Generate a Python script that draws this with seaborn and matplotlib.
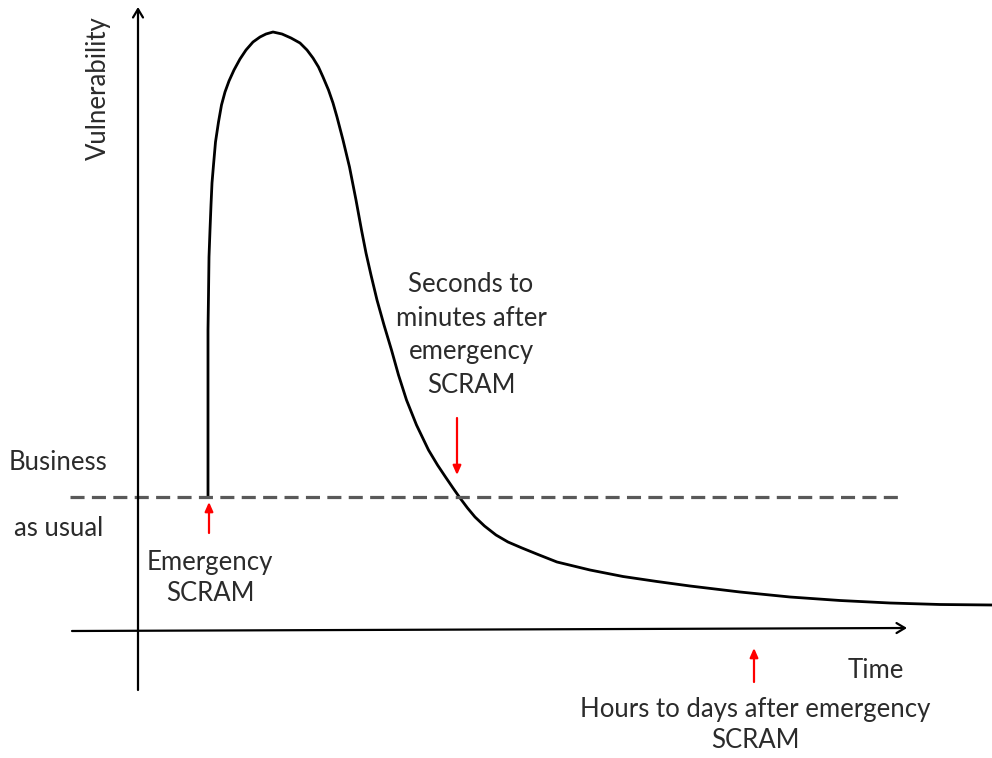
import matplotlib
matplotlib.use("Agg")
import matplotlib.pyplot as plt
import seaborn as sns
import pandas as pd

# ---- data (origin at the axes crossing; x = time, y = vulnerability) ----
time_pts = [70, 70, 70, 70, 70.5, 71, 72, 73, 74, 75.5, 77.5, 80.5, 83.5, 87, 91,
            96, 102, 108, 115, 122, 128, 135,
            144, 153, 162, 169, 175, 180.5, 185, 190.5, 195, 199, 205, 211.5, 218,
            223.5, 228, 233, 239, 246, 253.5, 260.5, 268.5, 278.5, 290.5, 299.5,
            307.5, 315, 322, 329.5, 337, 346.5, 358, 370, 384, 400, 419, 452, 485,
            519, 552, 602, 652, 702, 752, 802, 854]
vuln_pts = [134, 191, 251, 301, 336, 374, 401, 426, 448, 466, 489, 509, 526, 539,
            550, 561, 572, 581, 589, 594, 597, 599,
            597, 593, 588, 581, 573, 564, 554, 541, 528, 514, 491, 464, 431, 401,
            378, 356, 331, 306, 281, 256, 231, 206, 181, 166, 154, 143, 133, 123,
            114, 105, 96, 89, 83, 76.5, 69, 61, 54.5, 49.5, 45, 39, 34, 30.5, 28,
            26.5, 26]
business_as_usual = 134
baseline_span = [-68, 765]

labels = {
    "ylabel": "Vulnerability",
    "xlabel": "Time",
    "bau_top": "Business",
    "bau_bottom": "as usual",
    "scram": "Emergency\nSCRAM",
    "seconds": "Seconds to\nminutes after\nemergency\nSCRAM",
    "hours": "Hours to days after emergency\nSCRAM",
}

sns.set_theme(style="white")
plt.rcParams["font.family"] = ["Lato", "DejaVu Sans"]

fig = plt.figure(figsize=(9.92, 7.58), dpi=100)
ax = fig.add_axes([0, 0, 1, 1])
ax.set_xlim(-138, 854)
ax.set_ylim(-127, 631)
ax.axis("off")

df = pd.DataFrame({"t": time_pts, "v": vuln_pts})
sns.lineplot(data=df, x="t", y="v", sort=False, color="black", lw=2.0, ax=ax,
             estimator=None)

bl = pd.DataFrame({"t": baseline_span, "v": [business_as_usual] * 2})
sns.lineplot(data=bl, x="t", y="v", color="#595959", lw=2.3, ax=ax,
             linestyle=(0, (4.4, 2.3)), estimator=None)

# axes arrows
axis_kw = dict(arrowstyle="->,head_length=0.5,head_width=0.3", color="black", lw=1.6,
               shrinkA=0, shrinkB=0)
ax.annotate("", xy=(769, 3), xytext=(-66, 0), arrowprops=axis_kw)
ax.annotate("", xy=(0, 624), xytext=(0, -59), arrowprops=axis_kw)

# red arrows
red_kw = dict(arrowstyle="-|>,head_length=0.45,head_width=0.2", color="red", lw=1.6,
              shrinkA=0, shrinkB=0)
ax.annotate("", xy=(71, 129), xytext=(71, 98), arrowprops=red_kw)
ax.annotate("", xy=(319, 156), xytext=(319, 213), arrowprops=red_kw)
ax.annotate("", xy=(616, -17), xytext=(616, -51), arrowprops=red_kw)

tc = "#2b2b2b"
fs = 18.5
ax.text(-40, 543, labels["ylabel"], rotation=90, ha="center", va="center",
        fontsize=fs, color=tc)
ax.text(738, -40, labels["xlabel"], ha="center", va="center", fontsize=fs, color=tc)
ax.text(-80, 169, labels["bau_top"], ha="center", va="center", fontsize=fs, color=tc)
ax.text(-79, 103, labels["bau_bottom"], ha="center", va="center", fontsize=fs, color=tc)
ax.text(72, 53, labels["scram"], ha="center", va="center", fontsize=fs, color=tc,
        linespacing=1.32)
ax.text(333, 296, labels["seconds"], ha="center", va="center", fontsize=fs, color=tc,
        linespacing=1.43)
ax.text(617, -94, labels["hours"], ha="center", va="center", fontsize=fs, color=tc,
        linespacing=1.27)

fig.savefig("out.png", dpi=100)
